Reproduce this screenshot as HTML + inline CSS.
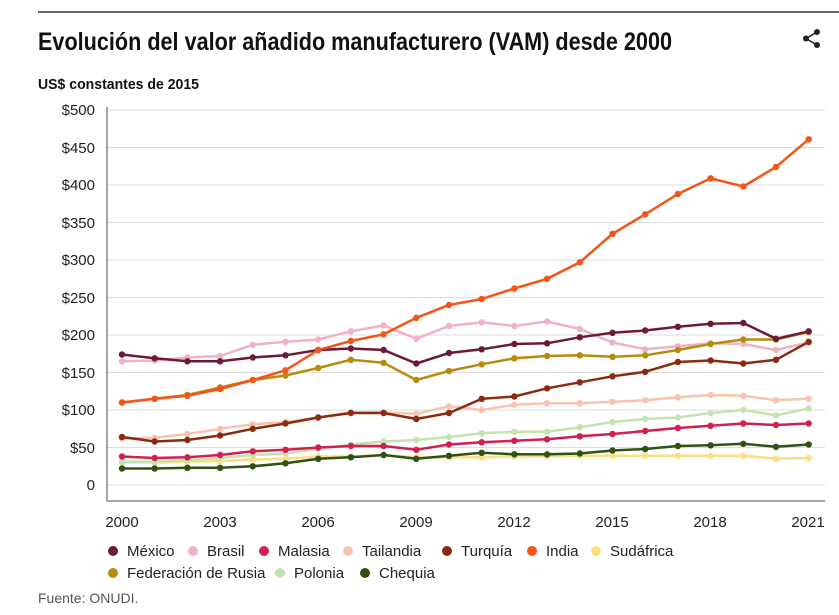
<!DOCTYPE html>
<html><head><meta charset="utf-8"><style>
html,body{margin:0;padding:0;background:#fff;width:839px;height:615px;overflow:hidden}
svg{display:block;font-family:"Liberation Sans",sans-serif}
</style></head><body>
<svg id="c" width="839" height="615" viewBox="0 0 839 615">
<line x1="38" y1="12" x2="839" y2="12" stroke="#333" stroke-width="1.5"/>
<text x="38" y="50" font-size="25" font-weight="bold" fill="#111" textLength="634" lengthAdjust="spacingAndGlyphs">Evolución del valor añadido manufacturero (VAM) desde 2000</text>
<g fill="#222"><circle cx="817" cy="32" r="3"/><circle cx="806" cy="38.5" r="3"/><circle cx="817" cy="45" r="3"/></g>
<polyline points="817,32 806,38.5 817,45" fill="none" stroke="#222" stroke-width="1.5"/>
<text x="38" y="89" font-size="15" font-weight="bold" fill="#111" textLength="161" lengthAdjust="spacingAndGlyphs">US$ constantes de 2015</text>
<g stroke="#ddd" stroke-width="1">
<line x1="107" x2="825" y1="110" y2="110"/><line x1="107" x2="825" y1="147.5" y2="147.5"/><line x1="107" x2="825" y1="185" y2="185"/><line x1="107" x2="825" y1="222.5" y2="222.5"/><line x1="107" x2="825" y1="260" y2="260"/><line x1="107" x2="825" y1="297.5" y2="297.5"/><line x1="107" x2="825" y1="335" y2="335"/><line x1="107" x2="825" y1="372.5" y2="372.5"/><line x1="107" x2="825" y1="410" y2="410"/><line x1="107" x2="825" y1="447.5" y2="447.5"/><line x1="107" x2="825" y1="485" y2="485"/>
</g>
<line x1="107" y1="107" x2="107" y2="501" stroke="#888" stroke-width="1.5"/>
<line x1="107" y1="501" x2="825" y2="501" stroke="#888" stroke-width="1.5"/>
<g font-size="15" fill="#222" text-anchor="end">
<text x="95" y="115">$500</text><text x="95" y="153">$450</text><text x="95" y="190">$400</text><text x="95" y="228">$350</text><text x="95" y="265">$300</text><text x="95" y="303">$250</text><text x="95" y="340">$200</text><text x="95" y="378">$150</text><text x="95" y="415">$100</text><text x="95" y="453">$50</text><text x="95" y="490">0</text>
</g>
<g font-size="15" fill="#222" text-anchor="middle">
<text x="122" y="527">2000</text><text x="220" y="527">2003</text><text x="318" y="527">2006</text><text x="416" y="527">2009</text><text x="514" y="527">2012</text><text x="612" y="527">2015</text><text x="710" y="527">2018</text><text x="808" y="527">2021</text>
</g>
<g id="s"></g>
<g font-size="15" fill="#222">
<circle cx="113" cy="551" r="5" fill="#6b1a3a"/><text x="127" y="556">México</text>
<circle cx="193" cy="551" r="5" fill="#f0b3c3"/><text x="207" y="556">Brasil</text>
<circle cx="264" cy="551" r="5" fill="#d1204f"/><text x="278" y="556">Malasia</text>
<circle cx="348" cy="551" r="5" fill="#f9c4ae"/><text x="362" y="556">Tailandia</text>
<circle cx="447" cy="551" r="5" fill="#8a2a10"/><text x="461" y="556">Turquía</text>
<circle cx="532" cy="551" r="5" fill="#f55418"/><text x="546" y="556">India</text>
<circle cx="596" cy="551" r="5" fill="#fbdf85"/><text x="610" y="556">Sudáfrica</text>
<circle cx="113" cy="573" r="5" fill="#b88a0e"/><text x="127" y="578">Federación de Rusia</text>
<circle cx="280" cy="573" r="5" fill="#c5e3b0"/><text x="294" y="578">Polonia</text>
<circle cx="365" cy="573" r="5" fill="#2d5214"/><text x="379" y="578">Chequia</text>
</g>
<text x="38" y="603" font-size="14" fill="#555">Fuente: ONUDI.</text>
</svg>
<script>
var D=[
["#fbdf85",[30,30,31,32,34,35,38,38,40,37,37,37,38,38,39,39,39,39,39,39,35,36]],
["#c5e3b0",[31,31,33,36,40,42,48,54,58,60,64,69,71,71,77,84,88,90,96,100,93,102]],
["#2d5214",[22,22,23,23,25,29,35,37,40,35,39,43,41,41,42,46,48,52,53,55,51,54]],
["#d1204f",[38,36,37,40,45,47,50,52,52,47,54,57,59,61,65,68,72,76,79,82,80,82]],
["#f9c4ae",[62,63,68,75,81,84,90,97,97,95,105,100,107,109,109,111,113,117,120,119,113,115]],
["#f0b3c3",[165,166,170,172,187,191,194,205,213,195,212,217,212,218,208,190,181,185,189,188,180,190]],
["#8a2a10",[64,58,60,66,75,82,90,96,96,88,96,115,118,129,137,145,151,164,166,162,167,191]],
["#b88a0e",[110,115,120,130,140,146,156,167,163,140,152,161,169,172,173,171,173,180,188,194,194,204]],
["#6b1a3a",[174,169,165,165,170,173,180,182,180,162,176,181,188,189,197,203,206,211,215,216,195,205]],
["#f55418",[110,115,119,128,140,153,180,192,201,223,240,248,262,275,297,335,361,388,409,398,424,461]]
];
var g=document.getElementById("s"),h="";
D.forEach(function(d){var p=d[1].map(function(v,i){return (122+i*32.7).toFixed(1)+","+(485-v*0.75).toFixed(1)});
h+='<polyline points="'+p.join(" ")+'" fill="none" stroke="'+d[0]+'" stroke-width="2.5"/>';
p.forEach(function(q){var a=q.split(",");h+='<circle cx="'+a[0]+'" cy="'+a[1]+'" r="3.2" fill="'+d[0]+'"/>'});});
g.innerHTML=h;
</script>
</body></html>
